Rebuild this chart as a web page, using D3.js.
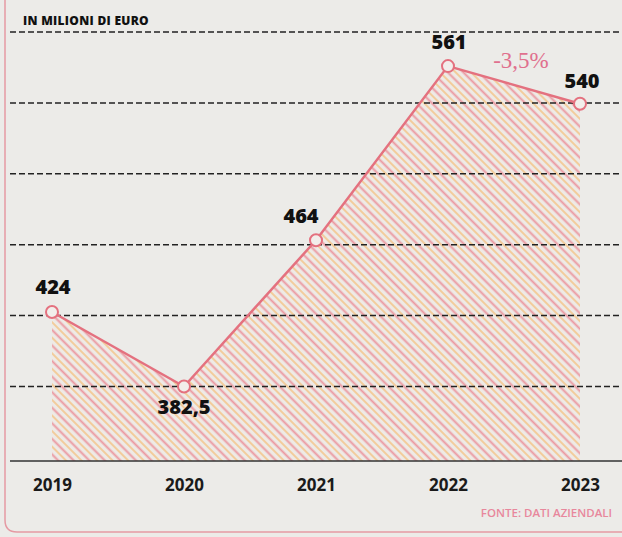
<!DOCTYPE html>
<html>
<head>
<meta charset="utf-8">
<script src="https://cdn.jsdelivr.net/npm/d3@7"></script>
<style>
  html, body { margin: 0; padding: 0; background: #ecebe8; }
  svg { display: block; }
</style>
</head>
<body>
<div id="chart"></div>
<script>
const years = ['2019', '2020', '2021', '2022', '2023'];
const values = [424, 382.5, 464, 561, 540];
const valueLabels = ['424', '382,5', '464', '561', '540'];
const gridValues = [382.5, 422, 461.5, 501, 540.5, 580];
const unitLabel = 'IN MILIONI DI EURO';
const changeLabel = '-3,5%';
const sourceLabel = 'FONTE: DATI AZIENDALI';

const width = 622;
const height = 537;
const pink = '#e4717f';

const svg = d3.select('#chart').append('svg')
    .attr('width', width)
    .attr('height', height);

const x = d3.scalePoint()
    .domain(years)
    .range([52, 580]);

const y = d3.scaleLinear()
    .domain([341, 580])
    .range([461, 32]);

// hatch pattern
const defs = svg.append('defs');
const pattern = defs.append('pattern')
    .attr('id', 'hatch')
    .attr('patternUnits', 'userSpaceOnUse')
    .attr('width', 11)
    .attr('height', 11)
    .attr('patternTransform', 'rotate(-45)');
pattern.append('rect')
    .attr('width', 11).attr('height', 11)
    .attr('fill', '#eeeae6');
pattern.append('line')
    .attr('x1', 1.5).attr('x2', 1.5).attr('y1', 0).attr('y2', 11)
    .attr('stroke', '#eb9aa2').attr('stroke-width', 2);
pattern.append('line')
    .attr('x1', 7).attr('x2', 7).attr('y1', 0).attr('y2', 11)
    .attr('stroke', '#f2cc9c').attr('stroke-width', 2);

// frame
svg.append('path')
    .attr('d', 'M5,0 V520 Q5,532 17,532 H622')
    .attr('fill', 'none')
    .attr('stroke', '#e59aa3')
    .attr('stroke-width', 1.5);

// area
const area = d3.area()
    .x((d, i) => x(years[i]))
    .y0(y(341))
    .y1(d => y(d));

svg.append('path')
    .datum(values)
    .attr('d', area)
    .attr('fill', 'url(#hatch)');

// gridlines
svg.selectAll('.grid')
    .data(gridValues)
    .enter()
    .append('line')
    .attr('class', 'grid')
    .attr('x1', 10)
    .attr('x2', width)
    .attr('y1', d => y(d))
    .attr('y2', d => y(d))
    .attr('stroke', '#222')
    .attr('stroke-width', 1.5)
    .attr('stroke-dasharray', '6,3');

// baseline / x axis
const xAxis = svg.append('g')
    .attr('transform', `translate(0,${y(341)})`)
    .call(d3.axisBottom(x).tickSize(0).tickPadding(18));
xAxis.select('.domain')
    .attr('d', `M10,0H${width}`)
    .attr('stroke', '#333')
    .attr('stroke-width', 1.3);
xAxis.selectAll('text')
    .attr('font-family', '"Open Sans", sans-serif')
    .attr('font-size', 17)
    .attr('font-weight', 700)
    .attr('fill', '#1a1a1a');

// line
const line = d3.line()
    .x((d, i) => x(years[i]))
    .y(d => y(d));

svg.append('path')
    .datum(values)
    .attr('d', line)
    .attr('fill', 'none')
    .attr('stroke', pink)
    .attr('stroke-width', 2.5);

svg.selectAll('.dot')
    .data(values)
    .enter()
    .append('circle')
    .attr('class', 'dot')
    .attr('cx', (d, i) => x(years[i]))
    .attr('cy', d => y(d))
    .attr('r', 6)
    .attr('fill', '#f2eeeb')
    .attr('stroke', pink)
    .attr('stroke-width', 2);

// value labels: offsets relative to point
const labelOffsets = [[1, -18], [0, 27], [-15, -17], [1, -17], [2, -16]];
svg.selectAll('.val')
    .data(values)
    .enter()
    .append('text')
    .attr('class', 'val')
    .attr('x', (d, i) => x(years[i]) + labelOffsets[i][0])
    .attr('y', (d, i) => y(d) + labelOffsets[i][1])
    .attr('text-anchor', 'middle')
    .attr('font-family', '"Open Sans", sans-serif')
    .attr('font-size', 20)
    .attr('font-weight', 800)
    .attr('fill', '#111')
    .text((d, i) => valueLabels[i]);

// change label
svg.append('text')
    .attr('x', (x('2022') + x('2023')) / 2 + 7)
    .attr('y', 68)
    .attr('text-anchor', 'middle')
    .attr('font-family', '"Liberation Serif", serif')
    .attr('font-size', 23)
    .attr('fill', '#e0708e')
    .text(changeLabel);

// unit label
svg.append('text')
    .attr('x', 23)
    .attr('y', 25)
    .attr('font-family', '"Open Sans", sans-serif')
    .attr('font-size', 12)
    .attr('font-weight', 800)
    .attr('letter-spacing', 0.3)
    .attr('fill', '#111')
    .text(unitLabel);

// source
svg.append('text')
    .attr('x', 612)
    .attr('y', 517)
    .attr('text-anchor', 'end')
    .attr('font-family', '"Open Sans", sans-serif')
    .attr('font-size', 11.5)
    .attr('font-weight', 600)
    .attr('fill', '#e8879c')
    .text(sourceLabel);
</script>
</body>
</html>
